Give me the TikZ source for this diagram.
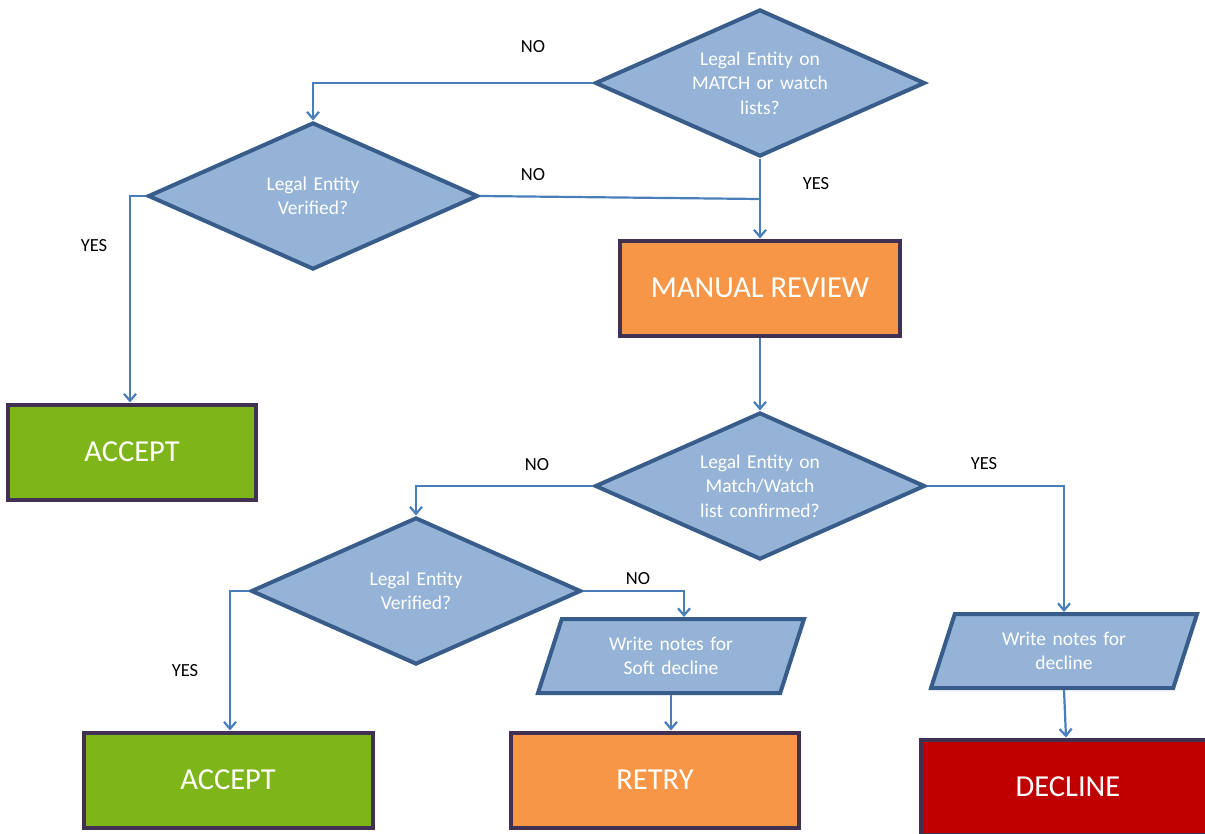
\documentclass[tikz,border=0pt]{standalone}
\usepackage{fontspec}
\setmainfont{Carlito}
\usetikzlibrary{shapes.geometric, arrows.meta, positioning, calc}
\definecolor{decfill}{HTML}{95B3D7}
\definecolor{decline}{HTML}{385D8A}
\definecolor{wire}{HTML}{4A7EBB}
\definecolor{boxline}{HTML}{403152}
\definecolor{okgreen}{HTML}{7EB61A}
\definecolor{warnorange}{HTML}{F79646}
\definecolor{badred}{HTML}{C00000}

\begin{document}
\begin{tikzpicture}[
  x=1pt, y=-1pt,
  font=\fontsize{19.5}{24.5}\selectfont,
  dec/.style={diamond, draw=decline, fill=decfill, line width=4pt, inner sep=0pt,
              shape aspect=2.24, minimum width=330pt, minimum height=147pt,
              text width=160pt, align=center, text=white},
  io/.style={trapezium, trapezium left angle=58, trapezium right angle=122,
             trapezium stretches body, draw=decline, fill=decfill, line width=4pt,
             inner sep=0pt, minimum width=266pt, minimum height=74pt,
             text width=150pt, align=center, text=white},
  endbox/.style={rectangle, draw=boxline, line width=4pt, text=white,
                 font=\fontsize{30.5}{34}\selectfont, minimum height=95pt},
  lbl/.style={font=\fontsize{18.5}{20}\selectfont, text=black},
  arr/.style={-{Straight Barb[length=7pt, width=12pt]}, wire, line width=2.2pt},
  wirel/.style={wire, line width=2.2pt}
]
  \useasboundingbox (0,0) rectangle (1205,833);

  % ── Row 1: first checks ─────────────────────────────────────────────────────
  \node[dec] (d1) at (760,83) {Legal Entity on\\MATCH or watch\\lists?};
  \node[dec] (d2) at (313,196) {Legal Entity\\Verified?};
  \node[endbox, fill=warnorange, minimum width=280pt] (mr) at (760,288) {MANUAL REVIEW};
  \node[endbox, fill=okgreen, minimum width=248pt] (acc1) at (132,452) {ACCEPT};

  % ── Row 2: review outcome ───────────────────────────────────────────────────
  \node[dec] (d3) at (760,486) {Legal Entity on\\Match/Watch\\list confirmed?};
  \node[dec] (d4) at (416,591) {Legal Entity\\Verified?};
  \node[io] (p1) at (671,656) {Write notes for\\Soft decline};
  \node[io] (p2) at (1064,651) {Write notes for\\decline};

  % ── Row 3: results ──────────────────────────────────────────────────────────
  \node[endbox, fill=okgreen, minimum width=289pt] (acc2) at (228,780) {ACCEPT};
  \node[endbox, fill=warnorange, minimum width=288pt] (retry) at (655,780) {RETRY};
  \node[endbox, fill=badred, minimum width=294pt] (dcl) at (1068,787) {DECLINE};

  % ── Labels ──────────────────────────────────────────────────────────────────
  \node[lbl] (no1) at (533,47) {NO};
  \node[lbl] (no2) at (533,175) {NO};
  \node[lbl] (yes1) at (816,184) {YES};
  \node[lbl] (yes2) at (94,246) {YES};
  \node[lbl] (no3) at (537,465) {NO};
  \node[lbl] (yes3) at (984,464) {YES};
  \node[lbl] (no4) at (638,579) {NO};
  \node[lbl] (yes4) at (185,671) {YES};

  % ── Arrows ──────────────────────────────────────────────────────────────────
  \coordinate (j1) at (760,199);
  \draw[arr] (d1.west) -| (d2.north);
  \draw[wirel] (d2.east) -- (j1);
  \draw[arr] (d1.south) -- (mr.north);
  \draw[arr] (d2.west) -| ([xshift=-2pt]acc1.north);
  \draw[arr] (mr.south) -- (d3.north);
  \draw[arr] (d3.west) -| (d4.north);
  \draw[arr] (d3.east) -| (p2.north);
  \draw[arr] (d4.west) -| ([xshift=2pt]acc2.north);
  \draw[arr] (d4.east) -| ([xshift=13pt]p1.north);
  \draw[arr] (p1.south) -- (p1.south |- retry.north);
  \draw[arr] (p2.south) -- ([xshift=-2pt]dcl.north);
\end{tikzpicture}
\end{document}
